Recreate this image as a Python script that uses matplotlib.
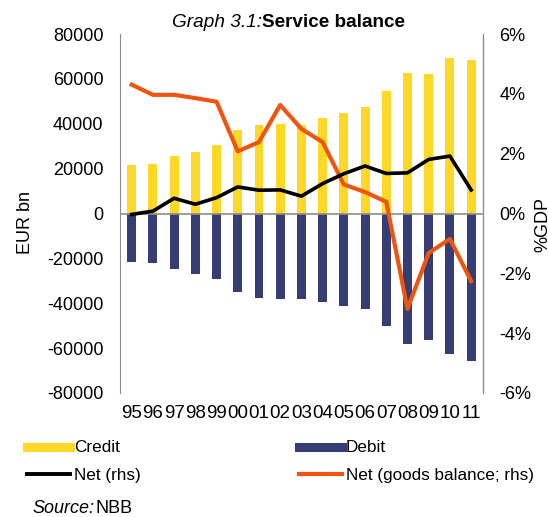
import numpy as np
import matplotlib
matplotlib.use('Agg')
import matplotlib.pyplot as plt
from matplotlib.lines import Line2D

plt.rcParams['font.family'] = ['Liberation Sans', 'DejaVu Sans']
plt.rcParams['axes.unicode_minus'] = False

years = ['95', '96', '97', '98', '99', '00', '01', '02', '03', '04',
         '05', '06', '07', '08', '09', '10', '11']
credit = [21500, 22200, 25800, 27600, 30400, 37200, 39400, 40000, 39400,
          42400, 45000, 47300, 54800, 62800, 62200, 69200, 68600]
debit = [-21600, -22200, -24700, -26800, -29100, -34900, -37600, -37900,
         -37900, -39400, -41300, -42400, -50300, -58000, -56200, -62500, -65900]
net = [-0.03, 0.08, 0.51, 0.31, 0.53, 0.89, 0.78, 0.79, 0.58, 1.0,
       1.33, 1.59, 1.34, 1.36, 1.81, 1.92, 0.79]
net_goods = [4.31, 3.97, 3.97, 3.86, 3.74, 2.08, 2.39, 3.63, 2.83, 2.39,
             0.97, 0.72, 0.39, -3.19, -1.32, -0.85, -2.26]

c_yellow = '#FFD726'
c_blue = '#363C74'
c_orange = '#EE5511'
c_grey = '#8C8C8C'

fig = plt.figure(figsize=(5.48, 5.17), dpi=100)
ax = fig.add_axes([0.219, 0.240, 0.662, 0.694])
x = np.arange(len(years))

ax.bar(x, credit, width=0.42, color=c_yellow, zorder=2)
ax.bar(x, debit, width=0.42, color=c_blue, zorder=2)
ax.axhline(0, color=c_grey, lw=1.2, zorder=3)
ax.set_ylim(-80000, 80000)
ax.set_yticks(np.arange(-80000, 80001, 20000))
ax.set_xlim(-0.55, len(years) - 0.45)
ax.set_xticks(x)
ax.set_xticklabels(years)
ax.tick_params(axis='x', length=0, pad=9, labelsize=13.5)
ax.tick_params(axis='y', length=0, pad=12, labelsize=13)
for s in ['top', 'bottom']:
    ax.spines[s].set_visible(False)
ax.spines['left'].set_color(c_grey)

ax2 = ax.twinx()
ax2.plot(x, net, color='black', lw=2.6, zorder=5)
ax2.plot(x, net_goods, color=c_orange, lw=3, zorder=4)
ax2.set_ylim(-6, 6)
ax2.set_yticks(np.arange(-6, 7, 2))
ax2.set_yticklabels([f'{v}%' for v in range(-6, 7, 2)])
ax2.tick_params(axis='y', length=0, pad=12, labelsize=13)
for s in ['top', 'bottom', 'left']:
    ax2.spines[s].set_visible(False)
ax2.spines['right'].set_color(c_grey)

fig.text(0.046, 0.569, 'EUR bn', rotation=90, ha='center', va='center', fontsize=13)
fig.text(0.99, 0.565, '%GDP', rotation=90, ha='center', va='center', fontsize=13)

fig.text(0.478, 0.957, 'Graph 3.1:', style='italic', ha='right', va='center', fontsize=13.7)
fig.text(0.478, 0.957, 'Service balance', weight='bold', ha='left', va='center', fontsize=13.6)

handles = [Line2D([], [], color=c_yellow, lw=6.5),
           Line2D([], [], color='black', lw=2.8),
           Line2D([], [], color=c_blue, lw=6.5),
           Line2D([], [], color=c_orange, lw=3)]
labels = ['Credit', 'Net (rhs)', 'Debit', 'Net (goods balance; rhs)']
fig.legend(handles, labels, ncol=2, loc='upper left', bbox_to_anchor=(0.05, 0.148),
           frameon=False, fontsize=12.3, handlelength=2.5, handletextpad=0.22,
           columnspacing=9.3, labelspacing=0.75, borderaxespad=0, borderpad=0)

fig.text(0.059, 0.017, 'Source:', style='italic', ha='left', va='center', fontsize=13)
fig.text(0.174, 0.017, 'NBB', ha='left', va='center', fontsize=13)

fig.savefig('out.png', dpi=100)
